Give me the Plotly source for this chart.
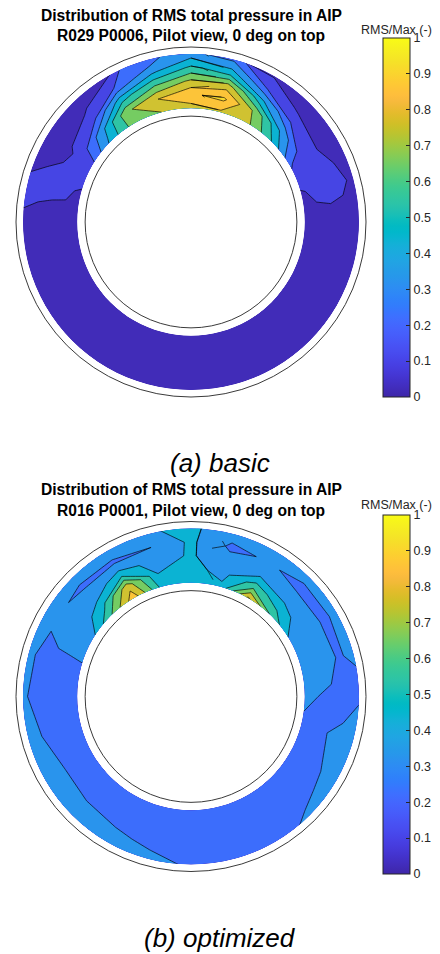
import plotly.graph_objects as go
import math

# ---------------- data ----------------
# measurement angles, degrees clockwise from top (0 deg on top)
THETA_DEG = [0, 15, 30, 45, 60, 75, 90, 105, 120, 135, 150, 165,
             180, 195, 210, 225, 240, 255, 270, 285, 300, 315, 330, 345]
# radial stations (outer casing radius = 1)
RADII = [0.65, 0.727, 0.805, 0.882, 0.96]

# (a) basic  - RMS/Max per ring (inner -> outer), one value per angle
A_RING1 = [0.75, 0.78, 0.72, 0.50, 0.22, 0.09, 0.07, 0.06, 0.06, 0.06, 0.05, 0.05,
           0.05, 0.05, 0.05, 0.06, 0.06, 0.06, 0.07, 0.09, 0.17, 0.42, 0.65, 0.70]
A_RING2 = [0.89, 0.92, 0.68, 0.38, 0.14, 0.12, 0.07, 0.06, 0.06, 0.05, 0.05, 0.05,
           0.05, 0.05, 0.05, 0.05, 0.06, 0.06, 0.08, 0.11, 0.12, 0.35, 0.68, 0.80]
A_RING3 = [0.72, 0.75, 0.42, 0.20, 0.11, 0.13, 0.07, 0.06, 0.05, 0.05, 0.05, 0.05,
           0.04, 0.05, 0.05, 0.05, 0.05, 0.06, 0.07, 0.12, 0.09, 0.15, 0.45, 0.60]
A_RING4 = [0.52, 0.45, 0.18, 0.08, 0.08, 0.12, 0.06, 0.05, 0.05, 0.05, 0.05, 0.04,
           0.04, 0.04, 0.05, 0.05, 0.05, 0.06, 0.08, 0.12, 0.07, 0.08, 0.20, 0.38]
A_RING5 = [0.35, 0.28, 0.09, 0.06, 0.06, 0.08, 0.06, 0.05, 0.05, 0.05, 0.04, 0.04,
           0.04, 0.04, 0.05, 0.05, 0.06, 0.06, 0.08, 0.11, 0.06, 0.06, 0.09, 0.22]

# (b) optimized
B_RING1 = [0.44, 0.42, 0.82, 0.58, 0.38, 0.33, 0.31, 0.29, 0.27, 0.26, 0.25, 0.24,
           0.24, 0.25, 0.25, 0.26, 0.27, 0.28, 0.28, 0.29, 0.36, 0.58, 0.86, 0.47]
B_RING2 = [0.43, 0.37, 0.55, 0.44, 0.35, 0.33, 0.30, 0.29, 0.27, 0.26, 0.25, 0.24,
           0.24, 0.25, 0.25, 0.26, 0.27, 0.28, 0.28, 0.29, 0.33, 0.45, 0.76, 0.40]
B_RING3 = [0.41, 0.34, 0.37, 0.33, 0.33, 0.32, 0.29, 0.30, 0.28, 0.26, 0.25, 0.24,
           0.24, 0.26, 0.27, 0.28, 0.29, 0.28, 0.28, 0.29, 0.32, 0.34, 0.45, 0.36]
B_RING4 = [0.42, 0.28, 0.31, 0.28, 0.28, 0.29, 0.28, 0.31, 0.31, 0.29, 0.27, 0.25,
           0.25, 0.29, 0.31, 0.32, 0.32, 0.30, 0.28, 0.28, 0.31, 0.29, 0.29, 0.30]
B_RING5 = [0.43, 0.34, 0.33, 0.33, 0.33, 0.33, 0.29, 0.33, 0.32, 0.31, 0.30, 0.27,
           0.28, 0.32, 0.33, 0.33, 0.33, 0.33, 0.31, 0.32, 0.33, 0.33, 0.33, 0.36]

LEVEL_START, LEVEL_END, LEVEL_STEP = 0.0, 1.0, 0.1
CB_TICKS = [0, 0.1, 0.2, 0.3, 0.4, 0.5, 0.6, 0.7, 0.8, 0.9, 1.0]
CB_TICKTEXT = ["0", "0.1", "0.2", "0.3", "0.4", "0.5", "0.6", "0.7", "0.8", "0.9", "1"]

TITLE_L1 = "Distribution of RMS total pressure in AIP"
TITLE_A2 = "R029 P0006, Pilot view, 0 deg on top"
TITLE_B2 = "R016 P0001, Pilot view, 0 deg on top"
CAPTION_A = "(a) basic"
CAPTION_B = "(b) optimized"
CB_LABEL = "RMS/Max (-)"

# ---------------- styling ----------------
W, H = 440, 954
FONT = "Liberation Sans, Arial, Helvetica, sans-serif"
INNER_CIRCLE = 0.605
PX_PER_UNIT = 175.0
HALF_RANGE = 1.05

PARULA = [
    [0.2422, 0.1504, 0.6603], [0.2504, 0.1650, 0.7076], [0.2578, 0.1818, 0.7511], [0.2647, 0.1978, 0.7952],
    [0.2706, 0.2147, 0.8364], [0.2751, 0.2342, 0.8710], [0.2783, 0.2559, 0.8991], [0.2803, 0.2782, 0.9221],
    [0.2813, 0.3006, 0.9414], [0.2810, 0.3228, 0.9579], [0.2795, 0.3447, 0.9717], [0.2760, 0.3667, 0.9829],
    [0.2699, 0.3892, 0.9906], [0.2602, 0.4123, 0.9952], [0.2440, 0.4358, 0.9988], [0.2206, 0.4603, 0.9973],
    [0.1963, 0.4847, 0.9892], [0.1834, 0.5074, 0.9798], [0.1786, 0.5289, 0.9682], [0.1764, 0.5499, 0.9520],
    [0.1687, 0.5703, 0.9359], [0.1540, 0.5902, 0.9218], [0.1460, 0.6091, 0.9079], [0.1380, 0.6276, 0.8973],
    [0.1248, 0.6459, 0.8883], [0.1113, 0.6635, 0.8763], [0.0952, 0.6798, 0.8598], [0.0689, 0.6948, 0.8394],
    [0.0297, 0.7082, 0.8163], [0.0036, 0.7203, 0.7917], [0.0067, 0.7312, 0.7660], [0.0433, 0.7411, 0.7394],
    [0.0964, 0.7500, 0.7120], [0.1408, 0.7584, 0.6842], [0.1717, 0.7670, 0.6554], [0.1938, 0.7758, 0.6251],
    [0.2161, 0.7843, 0.5923], [0.2470, 0.7918, 0.5567], [0.2906, 0.7973, 0.5188], [0.3406, 0.8008, 0.4789],
    [0.3909, 0.8029, 0.4354], [0.4456, 0.8024, 0.3909], [0.5044, 0.7993, 0.3480], [0.5616, 0.7942, 0.3045],
    [0.6174, 0.7876, 0.2612], [0.6720, 0.7793, 0.2227], [0.7242, 0.7698, 0.1910], [0.7738, 0.7598, 0.1646],
    [0.8203, 0.7498, 0.1535], [0.8634, 0.7406, 0.1596], [0.9035, 0.7330, 0.1774], [0.9393, 0.7288, 0.2100],
    [0.9728, 0.7298, 0.2394], [0.9956, 0.7434, 0.2371], [0.9970, 0.7659, 0.2199], [0.9952, 0.7893, 0.2028],
    [0.9892, 0.8136, 0.1885], [0.9786, 0.8386, 0.1766], [0.9676, 0.8639, 0.1643], [0.9610, 0.8890, 0.1537],
    [0.9597, 0.9135, 0.1423], [0.9628, 0.9373, 0.1265], [0.9691, 0.9606, 0.1064], [0.9769, 0.9839, 0.0805]]


def parula(v):
    v = min(max(v, 0.0), 1.0) * (len(PARULA) - 1)
    i = int(v)
    j = min(i + 1, len(PARULA) - 1)
    t = v - i
    c = [PARULA[i][k] * (1 - t) + PARULA[j][k] * t for k in range(3)]
    return "rgb(%d,%d,%d)" % tuple(round(255 * x) for x in c)


CONT_CS = [[i / 63.0, parula(i / 63.0)] for i in range(64)]

# banded fill colours (plotly samples each band at f=(k+1)/(nb+1))
nb = int(round((LEVEL_END - LEVEL_START) / LEVEL_STEP))
FILL_CS = [[0.0, parula(0.0)]]
for k in range(nb):
    L = LEVEL_START + k * LEVEL_STEP
    f = (k + 1) / (nb + 1)
    FILL_CS.append([f, parula(L + 0.4 * LEVEL_STEP)])
FILL_CS[-1][0] = 1.0

# carpet parameterisation (a = angle, b = radius); wrap the first two angles
A_AXIS = THETA_DEG + [THETA_DEG[0] + 360, THETA_DEG[1] + 360]


def wrap(row):
    return list(row) + [row[0], row[1]]


CX = [[b * math.sin(math.radians(a)) for a in A_AXIS] for b in RADII]
CY = [[b * math.cos(math.radians(a)) for a in A_AXIS] for b in RADII]

fig = go.Figure()

panels = [
    dict(rings=[A_RING1, A_RING2, A_RING3, A_RING4, A_RING5], xa="x", ya="y", cid="ca",
         cy=222.0, title2=TITLE_A2, t1y=16, t2y=35.5, cbtop=38.0, cblab=30.5,
         cap=CAPTION_A, capy=463),
    dict(rings=[B_RING1, B_RING2, B_RING3, B_RING4, B_RING5], xa="x2", ya="y2", cid="cb",
         cy=696.5, title2=TITLE_B2, t1y=489, t2y=510, cbtop=515.0, cblab=505.0,
         cap=CAPTION_B, capy=938),
]

ax_common = dict(visible=False, showgrid=False, zeroline=False, fixedrange=True,
                 range=[-HALF_RANGE, HALF_RANGE])
cx_px = 191.0
layout_axes = {}
annotations = []
shapes = []
for n, p in enumerate(panels):
    half = HALF_RANGE * PX_PER_UNIT
    xd = [(cx_px - half) / W, (cx_px + half) / W]
    yd = [1 - (p["cy"] + half) / H, 1 - (p["cy"] - half) / H]
    sfx = "" if n == 0 else "2"
    layout_axes["xaxis" + sfx] = dict(ax_common, domain=xd, anchor=p["ya"])
    layout_axes["yaxis" + sfx] = dict(ax_common, domain=yd, anchor=p["xa"])

    Z = [wrap(r) for r in p["rings"]]
    hide = dict(showgrid=False, showline=False, showticklabels="none", startline=False,
                endline=False, minorgridcount=0, tickmode="array", tickvals=[],
                title=dict(text=""), smoothing=1)
    fig.add_trace(go.Carpet(a=A_AXIS, b=RADII, x=CX, y=CY, carpet=p["cid"],
                            aaxis=hide, baxis=dict(hide, smoothing=0),
                            xaxis=p["xa"], yaxis=p["ya"]))
    fig.add_trace(go.Contourcarpet(a=A_AXIS, b=RADII, z=Z, carpet=p["cid"],
                                   autocontour=False,
                                   contours=dict(start=LEVEL_START, end=LEVEL_END, size=LEVEL_STEP,
                                                 coloring="fill", showlines=True),
                                   line=dict(color="black", width=0.65, smoothing=0),
                                   colorscale=FILL_CS, zmin=0, zmax=1, showscale=False,
                                   xaxis=p["xa"], yaxis=p["ya"]))
    # continuous colorbar
    fig.add_trace(go.Scatter(x=[None], y=[None], mode="markers", xaxis=p["xa"], yaxis=p["ya"],
                             hoverinfo="skip", showlegend=False,
                             marker=dict(color=[0.5], colorscale=CONT_CS, cmin=0, cmax=1,
                                         showscale=True,
                                         colorbar=dict(x=383 / W, xanchor="left", xpad=0,
                                                       y=1 - p["cbtop"] / H, yanchor="top", ypad=0,
                                                       len=359, lenmode="pixels",
                                                       thickness=27, thicknessmode="pixels",
                                                       outlinewidth=1, outlinecolor="#262626",
                                                       ticks="inside", ticklen=4, tickcolor="#262626",
                                                       tickvals=CB_TICKS, ticktext=CB_TICKTEXT,
                                                       tickfont=dict(family=FONT, size=12.5, color="#262626")))))
    for rad in (1.0, INNER_CIRCLE):
        shapes.append(dict(type="circle", xref=p["xa"], yref=p["ya"], x0=-rad, x1=rad, y0=-rad, y1=rad,
                           line=dict(color="#3a3a3a", width=1), layer="above"))
    annotations += [
        dict(text="<b>%s</b>" % TITLE_L1, x=cx_px / W, y=1 - p["t1y"] / H, xref="paper", yref="paper",
             showarrow=False, xanchor="center", yanchor="middle",
             font=dict(family=FONT, size=15.6, color="#000000")),
        dict(text="<b>%s</b>" % p["title2"], x=cx_px / W, y=1 - p["t2y"] / H, xref="paper", yref="paper",
             showarrow=False, xanchor="center", yanchor="middle",
             font=dict(family=FONT, size=15.6, color="#000000")),
        dict(text=CB_LABEL, x=396 / W, y=1 - p["cblab"] / H, xref="paper", yref="paper",
             showarrow=False, xanchor="center", yanchor="middle",
             font=dict(family=FONT, size=12.5, color="#262626")),
        dict(text="<i>%s</i>" % p["cap"], x=220 / W, y=1 - p["capy"] / H, xref="paper", yref="paper",
             showarrow=False, xanchor="center", yanchor="middle",
             font=dict(family=FONT, size=26, color="#000000")),
    ]

fig.update_layout(width=W, height=H, margin=dict(l=0, r=0, t=0, b=0),
                  paper_bgcolor="white", plot_bgcolor="white", showlegend=False,
                  annotations=annotations, shapes=shapes, **layout_axes)

fig.write_html("out.html", config={"displayModeBar": False},
               post_script="document.body.style.margin='0px';document.body.style.overflow='hidden';")
